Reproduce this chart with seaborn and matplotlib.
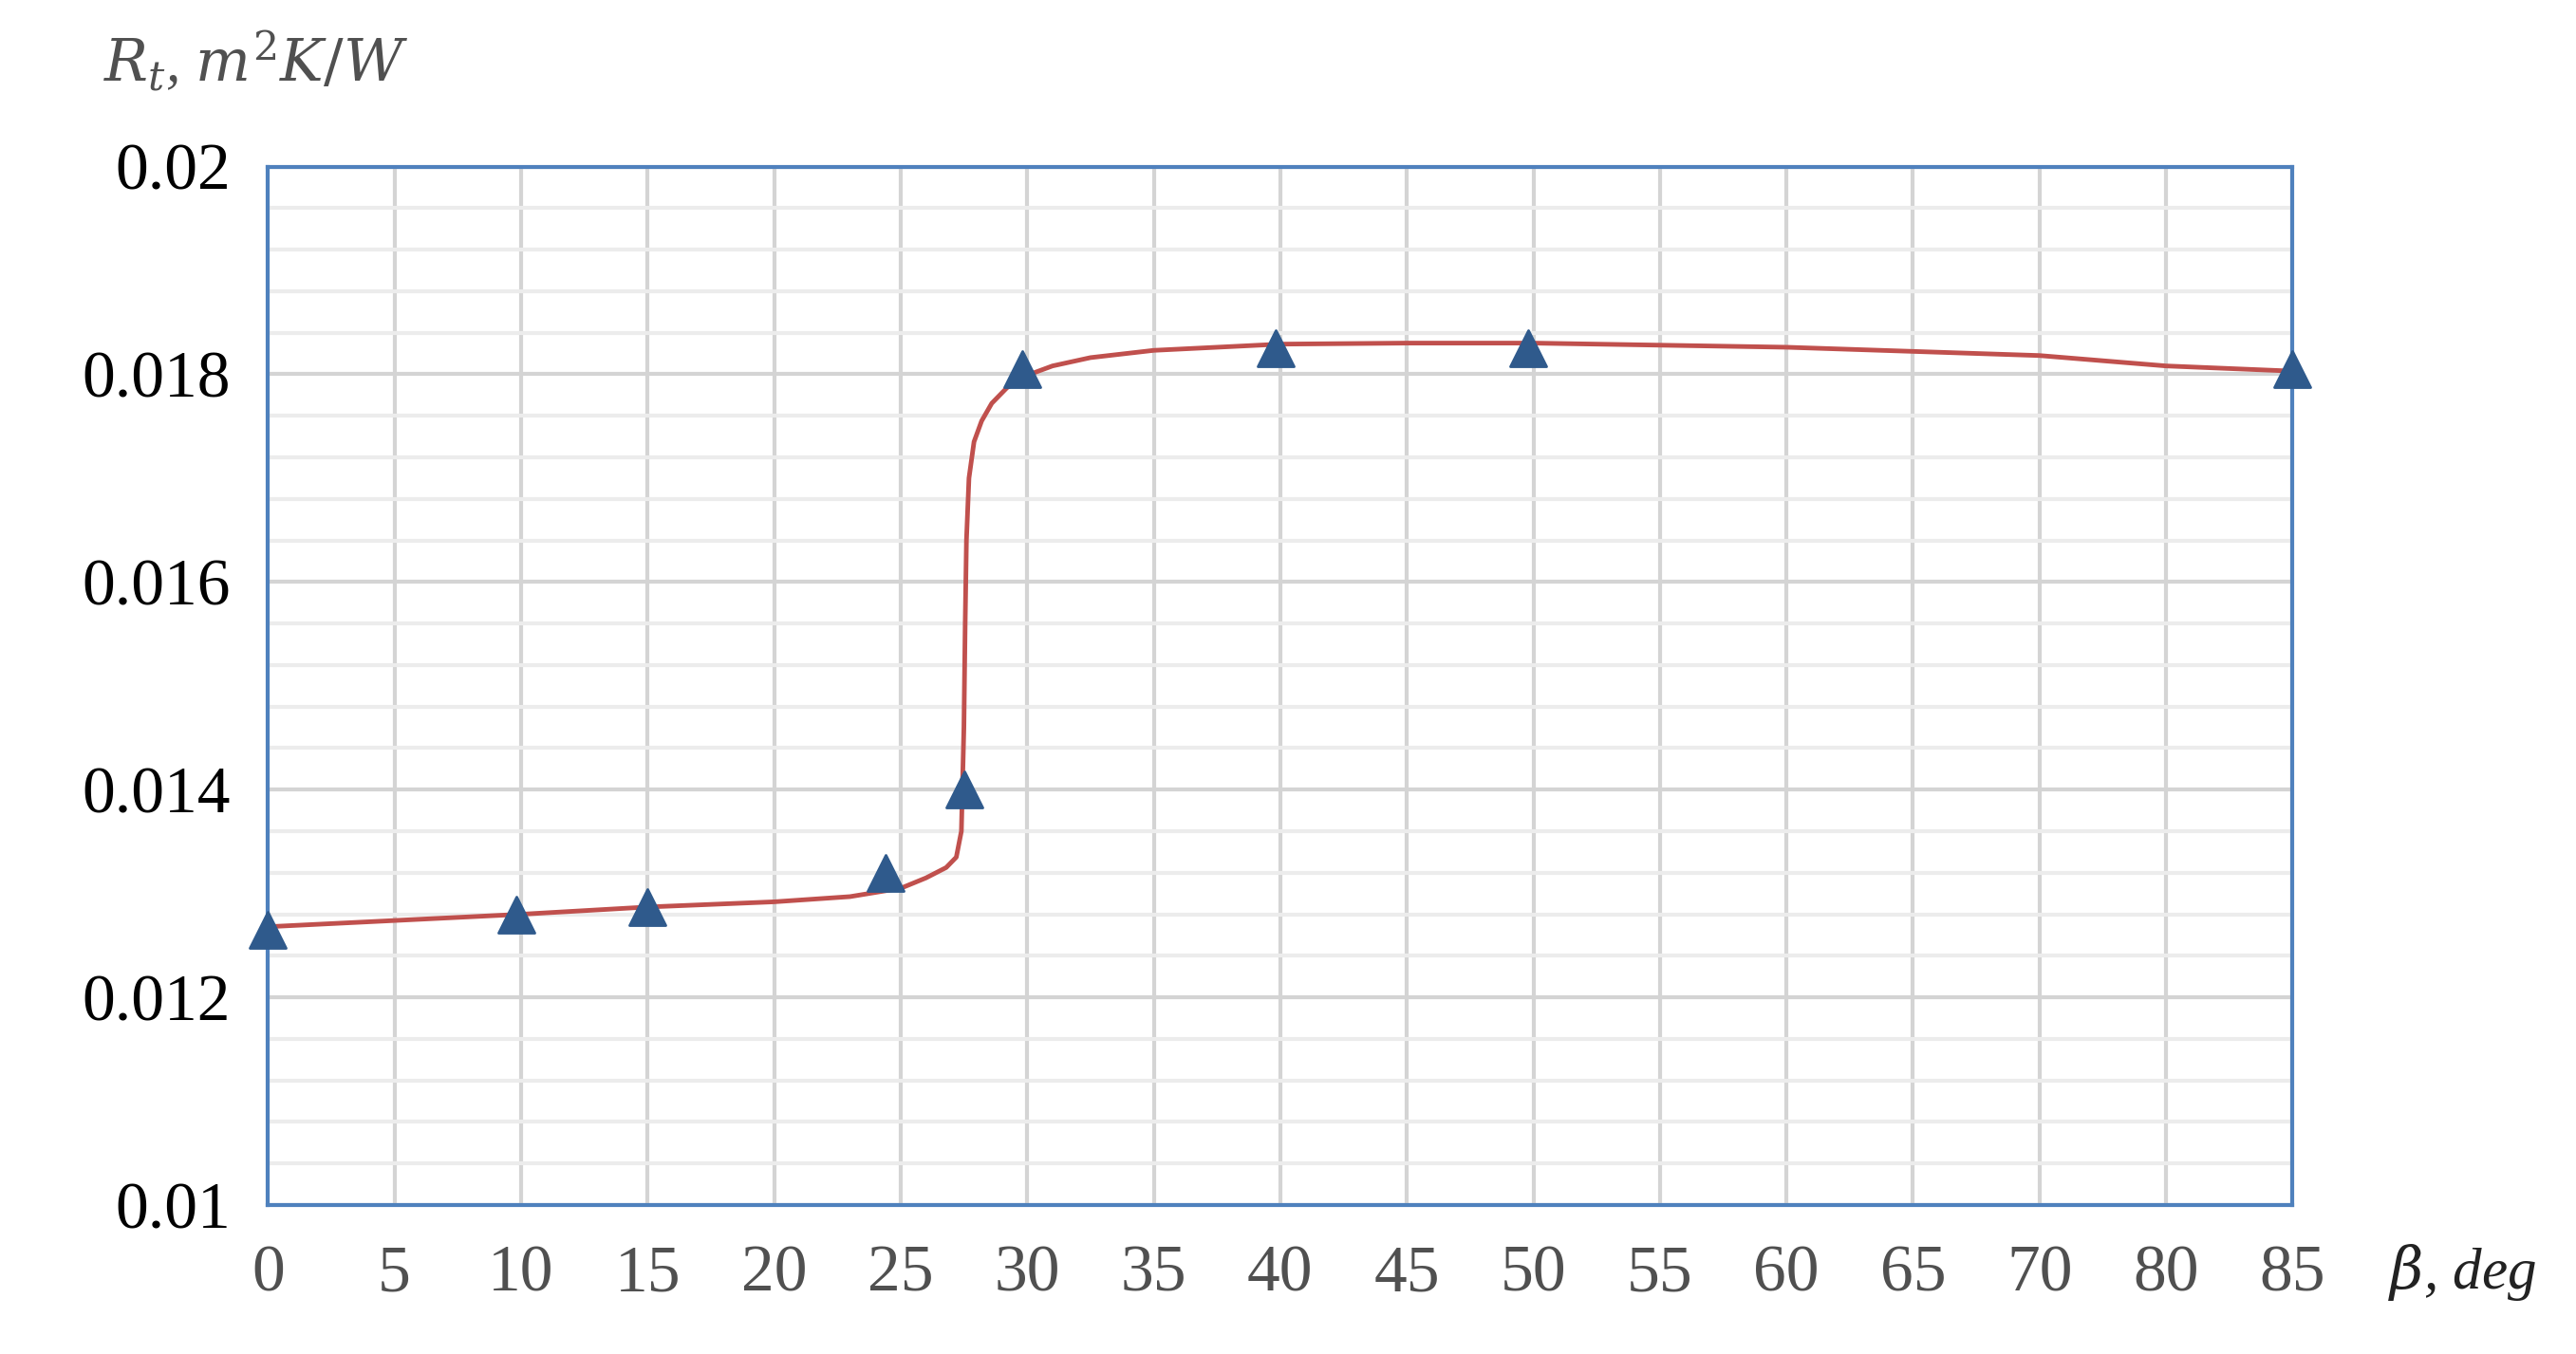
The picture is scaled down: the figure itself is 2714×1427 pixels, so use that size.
import numpy as np
import pandas as pd
import seaborn as sns
import matplotlib
matplotlib.use("Agg")
import matplotlib.pyplot as plt

# x tick labels (axis has no 75 label; last label 85 sits at the 80 position)
tick_labels = [0, 5, 10, 15, 20, 25, 30, 35, 40, 45, 50, 55, 60, 65, 70, 80, 85]
tick_pos = [0, 5, 10, 15, 20, 25, 30, 35, 40, 45, 50, 55, 60, 65, 70, 75, 80]

# measured points
beta_pts = [0, 9.8, 15, 24.4, 27.5, 29.8, 39.8, 49.8, 85]
rt_pts = [0.01265, 0.0128, 0.01287, 0.0132, 0.0140, 0.01805, 0.01825, 0.01825, 0.01805]

# smoothed trend curve
beta_curve = [0, 5, 10, 15, 20, 23, 25, 26, 26.8, 27.2, 27.4, 27.5, 27.55, 27.6, 27.7, 27.9, 28.2, 28.6, 29.2, 30, 31, 32.5, 35, 40, 45, 50, 60, 70, 80, 85]
rt_curve = [0.01268, 0.01274, 0.0128, 0.01287, 0.01292, 0.01297, 0.01305, 0.01315, 0.01325, 0.01335, 0.0136, 0.0146,
            0.0156, 0.0164, 0.0170, 0.01735, 0.01755, 0.01772, 0.01787, 0.01799, 0.01808, 0.01816, 0.01823, 0.01829,
            0.0183, 0.0183, 0.01826, 0.01818, 0.01808, 0.01803]

def to_pos(b):
    return np.interp(b, tick_labels, tick_pos)

sns.set_theme(style="white")
plt.rcParams['font.family'] = ['Liberation Serif', 'DejaVu Serif']

fig = plt.figure(figsize=(27.14, 14.27), dpi=100)
ax = fig.add_axes([0.104, 0.11, 0.786, 0.767])

dfc = pd.DataFrame({"x": to_pos(beta_curve), "y": rt_curve})
dfp = pd.DataFrame({"x": to_pos(beta_pts), "y": rt_pts})
sns.lineplot(data=dfc, x="x", y="y", ax=ax, color="#c0504d", lw=3.5, sort=False, zorder=3)
sns.scatterplot(data=dfp, x="x", y="y", ax=ax, marker="^", s=750, color="#2f5a8c", edgecolor="#2f5a8c",
                linewidth=2, zorder=4, clip_on=False)

ax.set_xlim(0, 80)
ax.set_ylim(0.01, 0.02)
ax.set_xticks(tick_pos)
ax.set_xticklabels([str(t) for t in tick_labels])
yt = [0.01, 0.012, 0.014, 0.016, 0.018, 0.02]
ax.set_yticks(yt)
ax.set_yticklabels(["0.01", "0.012", "0.014", "0.016", "0.018", "0.02"])
ax.set_yticks(np.arange(0.01, 0.02001, 0.0004), minor=True)
ax.grid(True, which="major", axis="both", color="#d4d4d4", lw=3)
ax.grid(True, which="minor", axis="y", color="#ececec", lw=3)
ax.set_axisbelow(True)
for s in ax.spines.values():
    s.set_color("#4f81bd"); s.set_linewidth(3)
ax.tick_params(axis="both", labelsize=50, length=0)
ax.tick_params(axis="x", labelcolor="#505050", pad=30)
ax.tick_params(axis="y", labelcolor="#000000", pad=28)
ax.set_xlabel(""); ax.set_ylabel("")

fig.text(0.04, 0.955, r"$R_t$, $m^2K/W$", fontsize=44, color="#505050", style="italic", va="center",
         math_fontfamily="dejavuserif")
fig.text(0.927, 0.06, r"$\beta$, deg", fontsize=44, color="#222222", style="italic", va="center",
         math_fontfamily="dejavuserif")

fig.savefig("out.png", dpi=100)
